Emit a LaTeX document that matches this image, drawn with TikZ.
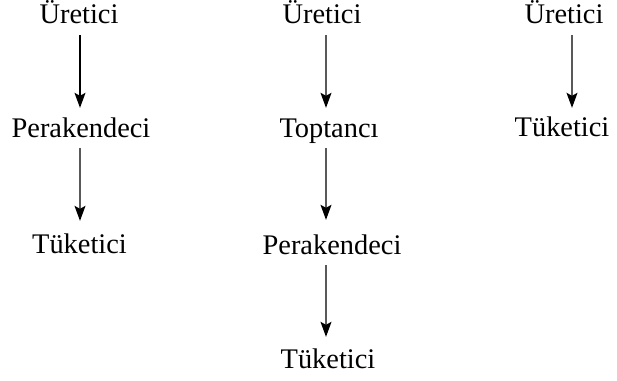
\documentclass[tikz,border=0pt]{standalone}
\usepackage{fontspec}
\setmainfont{Liberation Serif}
\usetikzlibrary{arrows.meta}
\begin{document}
\begin{tikzpicture}[x=1bp,y=-1bp,
  lbl/.style={inner sep=0pt, anchor=base, font=\fontsize{28.5}{30}\selectfont, text height=20bp, text depth=6bp},
  arr/.style={-{Stealth[length=15bp,width=11bp,inset=3bp]}, line width=1.1bp}]
\useasboundingbox (0,0) rectangle (617,380);
% column 1
\node[lbl] (u1) at (79,23) {Üretici};
\node[lbl] (p1) at (81,137) {Perakendeci};
\node[lbl] (t1) at (79.5,253) {Tüketici};
% column 2
\node[lbl] (u2) at (322,23) {Üretici};
\node[lbl] (o2) at (329,137) {Toptancı};
\node[lbl] (p2) at (332,254) {Perakendeci};
\node[lbl] (t2) at (328,368) {Tüketici};
% column 3
\node[lbl] (u3) at (564,23) {Üretici};
\node[lbl] (t3) at (562,136) {Tüketici};
% arrows
\draw[arr, shorten <=6bp, shorten >=9bp] ([xshift=1bp]u1.south) -- ([xshift=-1bp]p1.north);
\draw[arr, shorten <=5bp, shorten >=12bp] ([xshift=-1bp]p1.south) -- ([xshift=0.5bp]t1.north);
\draw[arr, shorten <=6bp, shorten >=9bp] ([xshift=4bp]u2.south) -- ([xshift=-3bp]o2.north);
\draw[arr, shorten <=5bp, shorten >=14bp] ([xshift=-3bp]o2.south) -- ([xshift=-6bp]p2.north);
\draw[arr, shorten <=5bp, shorten >=11bp] ([xshift=-6bp]p2.south) -- ([xshift=-2bp]t2.north);
\draw[arr, shorten <=6bp, shorten >=8bp] ([xshift=8bp]u3.south) -- ([xshift=10bp]t3.north);
\end{tikzpicture}
\end{document}
